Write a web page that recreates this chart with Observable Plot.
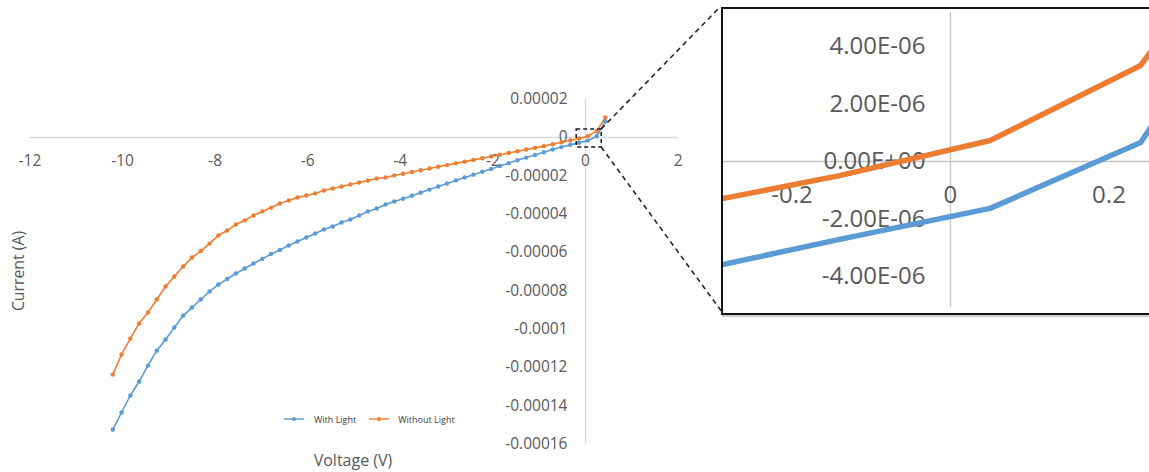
<!DOCTYPE html>
<html>
<head>
<meta charset="utf-8">
<script src="https://cdn.jsdelivr.net/npm/d3@7"></script>
<script src="https://cdn.jsdelivr.net/npm/@observablehq/plot@0.6"></script>
<style>
html, body { margin: 0; padding: 0; background: #fff; overflow: hidden; }
#wrap { position: relative; width: 1149px; height: 472px; overflow: hidden; font-family: "Open Sans", sans-serif; }
#main { position: absolute; left: 0; top: 0; }
#links { position: absolute; left: 0; top: 0; pointer-events: none; }
#inset { position: absolute; left: 721px; top: 7px; width: 427px; height: 304px; border: 2px solid #141414; background: #fff; overflow: hidden; box-shadow: 1px 2px 1px rgba(0,0,0,0.18); }
.title { position: absolute; color: #595959; white-space: nowrap; }
#ytitle { left: 18px; top: 271px; font-size: 15.8px; transform: translate(-50%, -50%) rotate(-90deg); }
#xtitle { left: 353px; top: 460px; font-size: 16px; transform: translate(-50%, -50%); }
#legend { position: absolute; left: 284px; top: 412px; height: 14px; display: flex; align-items: center; font-size: 9px; color: #404040; white-space: nowrap; }
#legend .item { display: flex; align-items: center; }
#legend svg { display: block; }
</style>
</head>
<body>
<div id="wrap">
  <div id="main"></div>
  <svg id="links" width="1149" height="472"></svg>
  <div id="inset"></div>
  <div id="ytitle" class="title">Current (A)</div>
  <div id="xtitle" class="title">Voltage (V)</div>
  <div id="legend"></div>
</div>
<script>
// ---------------- data ----------------
const voltage = [
  -10.21, -10.02, -9.83, -9.64, -9.45, -9.26, -9.07, -8.88, -8.69, -8.50,
  -8.31, -8.12, -7.93, -7.74, -7.55, -7.36, -7.17, -6.98, -6.79, -6.60,
  -6.41, -6.22, -6.03, -5.84, -5.65, -5.46, -5.27, -5.08, -4.89, -4.70,
  -4.51, -4.32, -4.13, -3.94, -3.75, -3.56, -3.37, -3.18, -2.99, -2.80,
  -2.61, -2.42, -2.23, -2.04, -1.85, -1.66, -1.47, -1.28, -1.09, -0.90,
  -0.71, -0.52, -0.33, -0.14, 0.05, 0.24, 0.43
];
// currents in microamperes
const withLightMicroA = [
  -152.5, -143.6, -134.7, -127.4, -119.1, -111.3, -105.5, -99.2, -93.0, -88.8,
  -84.6, -80.4, -76.8, -73.9, -71.0, -68.4, -65.8, -63.4, -60.8, -58.7,
  -56.4, -54.3, -52.2, -50.1, -48.0, -46.5, -44.4, -42.8, -40.7, -38.6,
  -37.1, -35.0, -33.4, -32.0, -30.4, -28.8, -27.2, -25.6, -24.0, -22.4,
  -20.9, -19.4, -17.9, -16.4, -14.9, -13.4, -11.9, -10.5, -9.1, -7.7,
  -6.3, -5.0, -3.84, -2.71, -1.63, 0.66, 8.5
];
const withoutLightMicroA = [
  -123.8, -113.3, -105.0, -97.1, -91.4, -84.6, -77.8, -72.6, -67.4, -62.7,
  -59.3, -55.4, -51.2, -48.6, -45.4, -43.3, -40.7, -38.6, -36.6, -34.5,
  -32.9, -31.3, -30.3, -29.2, -27.7, -26.6, -25.6, -24.5, -23.5, -22.5,
  -21.4, -20.9, -19.8, -18.9, -18.0, -17.1, -16.2, -15.3, -14.4, -13.5,
  -12.6, -11.7, -10.8, -9.9, -9.0, -8.1, -7.2, -6.3, -5.4, -4.5,
  -3.5, -2.5, -1.52, -0.49, 0.73, 3.34, 10.5
];
const seriesNames = ["With Light", "Without Light"];

const mainXTicks = [-12, -10, -8, -6, -4, -2, 0, 2];
const mainXTickLabels = ["-12", "-10", "-8", "-6", "-4", "-2", "0", "2"];
const mainYTicks = [0.00002, 0, -0.00002, -0.00004, -0.00006, -0.00008, -0.0001, -0.00012, -0.00014, -0.00016];
const mainYTickLabels = ["0.00002", "0", "-0.00002", "-0.00004", "-0.00006", "-0.00008", "-0.0001", "-0.00012", "-0.00014", "-0.00016"];

const insetXTicks = [-0.2, 0, 0.2];
const insetXTickLabels = ["-0.2", "0", "0.2"];
const insetYTicks = [4e-6, 2e-6, 0, -2e-6, -4e-6];
const insetYTickLabels = ["4.00E-06", "2.00E-06", "0.00E+00", "-2.00E-06", "-4.00E-06"];

// zoom window shown on the main chart
const zoomBox = { x1: -0.19, x2: 0.35, y1: 4.2e-6, y2: -5.2e-6 };

// ---------------- styles ----------------
const seriesColors = ["#5b9bd5", "#ed7d31"];
const tickColor = "#595959";
const axisColor = "#d9d9d9";

const rows = [];
voltage.forEach((v, i) => {
  rows.push({ v, a: withLightMicroA[i] * 1e-6, s: seriesNames[0] });
  rows.push({ v, a: withoutLightMicroA[i] * 1e-6, s: seriesNames[1] });
});

// ---------------- main chart ----------------
const main = Plot.plot({
  width: 720,
  height: 472,
  marginLeft: 29.4,
  marginRight: 42.4,
  marginTop: 98.7,
  marginBottom: 28.6,
  x: { domain: [-12, 2], axis: null },
  y: { domain: [-0.00016, 0.00002], axis: null },
  color: { domain: seriesNames, range: seriesColors },
  style: { fontFamily: "Open Sans", background: "transparent", overflow: "visible" },
  marks: [
    Plot.ruleY([0], { stroke: axisColor, strokeWidth: 1.4 }),
    Plot.ruleX([0], { stroke: axisColor, strokeWidth: 1.4 }),
    Plot.text(mainXTicks, { x: d => d, y: 0, text: (d, i) => mainXTickLabels[i], dy: 24, fontSize: 15.5, fill: tickColor }),
    Plot.text(mainYTicks, { x: 0, y: d => d, text: (d, i) => mainYTickLabels[i], dx: -18, textAnchor: "end", fontSize: 15.5, fill: tickColor }),
    Plot.line(rows, { x: "v", y: "a", z: "s", stroke: "s", strokeWidth: 1.6 }),
    Plot.dot(rows, { x: "v", y: "a", fill: "s", r: 2.2 }),
    Plot.rect([zoomBox], { x1: "x1", x2: "x2", y1: "y1", y2: "y2", fill: "none", stroke: "#1a1a1a", strokeWidth: 1.5, strokeDasharray: "4,3" })
  ]
});
document.getElementById("main").appendChild(main);

// ---------------- inset ----------------
const inset = Plot.plot({
  width: 427,
  height: 304,
  margin: 0,
  x: { domain: [-0.2864, 0.2524], axis: null },
  y: { domain: [-5.287e-6, 5.287e-6], axis: null },
  color: { domain: seriesNames, range: seriesColors },
  style: { fontFamily: "Open Sans", background: "#fff" },
  marks: [
    Plot.ruleY([0], { stroke: "#c4c4c4", strokeWidth: 1.3 }),
    Plot.ruleX([0], { stroke: "#c4c4c4", strokeWidth: 1.3, insetTop: 3, insetBottom: 6 }),
    Plot.text(insetXTicks, { x: d => d, y: 0, text: (d, i) => insetXTickLabels[i], dy: 34, fontSize: 24, fill: tickColor }),
    Plot.text(insetYTicks, { x: 0, y: d => d, text: (d, i) => insetYTickLabels[i], dx: -25, textAnchor: "end", fontSize: 24, fill: tickColor }),
    Plot.line(rows, { x: "v", y: "a", z: "s", stroke: "s", strokeWidth: 5.5, clip: true })
  ]
});
document.getElementById("inset").appendChild(inset);

// ---------------- connector lines ----------------
const sx = main.scale("x"), sy = main.scale("y");
const insetEl = document.getElementById("inset");
const bx = sx.apply(zoomBox.x2);
const byTop = sy.apply(zoomBox.y1);
const byBot = sy.apply(zoomBox.y2);
const ix = insetEl.offsetLeft;
const iyTop = insetEl.offsetTop + 1;
const iyBot = insetEl.offsetTop + insetEl.offsetHeight - 3;
const links = d3.select("#links");
[[bx, byTop, ix - 2, iyTop], [bx, byBot, ix + 1, iyBot]].forEach(([x1, y1, x2, y2]) => {
  links.append("line")
    .attr("x1", x1).attr("y1", y1).attr("x2", x2).attr("y2", y2)
    .attr("stroke", "#262626").attr("stroke-width", 1.6).attr("stroke-dasharray", "5,4");
});

// ---------------- legend ----------------
const legend = d3.select("#legend");
seriesNames.forEach((name, i) => {
  const item = legend.append("div").attr("class", "item").style("margin-right", i === 0 ? "13px" : "0px");
  const svg = item.append("svg").attr("width", 20).attr("height", 8);
  svg.append("line").attr("x1", 0).attr("x2", 20).attr("y1", 4).attr("y2", 4).attr("stroke", seriesColors[i]).attr("stroke-width", 1.4);
  svg.append("circle").attr("cx", 10).attr("cy", 4).attr("r", 2).attr("fill", seriesColors[i]);
  item.append("span").style("margin-left", i === 0 ? "10px" : "9px").text(name);
});
</script>
</body>
</html>
